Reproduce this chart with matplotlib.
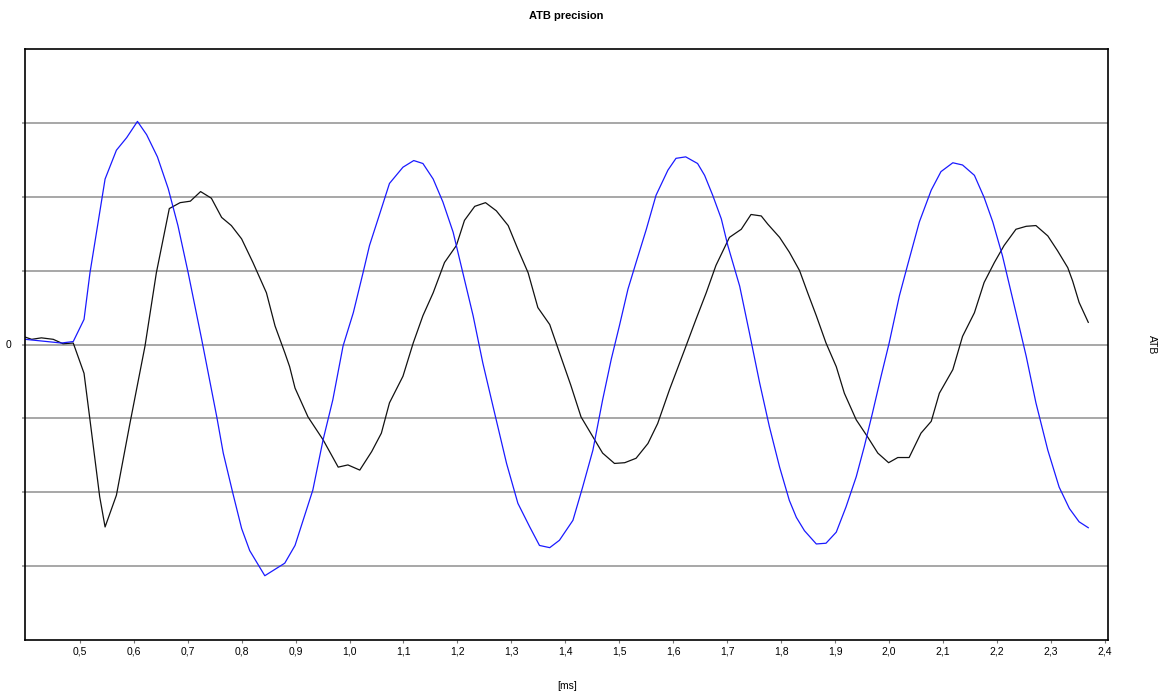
import matplotlib
matplotlib.use("Agg")
import matplotlib.pyplot as plt

plt.rcParams['font.family'] = ['Liberation Sans', 'DejaVu Sans']

# ---- data (time in ms, value in grid units) ----
blue_t = [0.399, 0.466, 0.488, 0.508, 0.519, 0.547, 0.568, 0.587, 0.607, 0.624,
          0.644, 0.664, 0.682, 0.701, 0.726, 0.754, 0.766, 0.784, 0.800, 0.815,
          0.843, 0.880, 0.899, 0.932, 0.951, 0.969, 0.988, 1.007, 1.025, 1.037,
          1.056, 1.074, 1.099, 1.119, 1.136, 1.155, 1.173, 1.192, 1.210, 1.229,
          1.247, 1.266, 1.291, 1.312, 1.334, 1.352, 1.371, 1.389, 1.414, 1.432,
          1.451, 1.469, 1.485, 1.500, 1.516, 1.531, 1.550, 1.568, 1.590, 1.605,
          1.623, 1.645, 1.658, 1.673, 1.689, 1.701, 1.723, 1.741, 1.760, 1.778,
          1.797, 1.815, 1.828, 1.843, 1.865, 1.883, 1.902, 1.920, 1.939, 1.954,
          1.969, 1.985, 2.000, 2.019, 2.034, 2.056, 2.078, 2.096, 2.118, 2.136,
          2.158, 2.176, 2.192, 2.210, 2.235, 2.254, 2.272, 2.294, 2.315, 2.334,
          2.352, 2.369]
blue_v = [0.07, 0.02, 0.04, 0.34, 0.97, 2.24, 2.63, 2.80, 3.02, 2.84,
          2.54, 2.11, 1.61, 0.97, 0.07, -0.98, -1.47, -2.02, -2.49, -2.79,
          -3.13, -2.96, -2.72, -1.97, -1.29, -0.75, -0.02, 0.43, 0.97, 1.34,
          1.77, 2.18, 2.40, 2.49, 2.45, 2.24, 1.93, 1.52, 0.97, 0.39,
          -0.25, -0.84, -1.61, -2.15, -2.47, -2.72, -2.75, -2.65, -2.38, -1.93,
          -1.43, -0.75, -0.20, 0.25, 0.75, 1.11, 1.56, 2.02, 2.36, 2.52,
          2.54, 2.45, 2.29, 2.02, 1.70, 1.34, 0.79, 0.16, -0.52, -1.11,
          -1.66, -2.11, -2.34, -2.52, -2.70, -2.69, -2.54, -2.20, -1.79, -1.38,
          -0.93, -0.43, 0.02, 0.66, 1.07, 1.66, 2.09, 2.34, 2.46, 2.43,
          2.29, 1.99, 1.66, 1.20, 0.43, -0.16, -0.79, -1.43, -1.93, -2.22,
          -2.40, -2.48]

black_t = [0.399, 0.411, 0.429, 0.451, 0.469, 0.488, 0.508, 0.519, 0.537, 0.547,
           0.568, 0.593, 0.621, 0.642, 0.666, 0.686, 0.705, 0.724, 0.744, 0.763,
           0.781, 0.800, 0.821, 0.846, 0.862, 0.880, 0.889, 0.899, 0.923, 0.951,
           0.979, 0.997, 1.019, 1.041, 1.059, 1.074, 1.099, 1.118, 1.136, 1.155,
           1.176, 1.198, 1.213, 1.232, 1.252, 1.272, 1.294, 1.312, 1.331, 1.349,
           1.371, 1.389, 1.410, 1.429, 1.451, 1.469, 1.491, 1.510, 1.531, 1.553,
           1.571, 1.593, 1.621, 1.642, 1.661, 1.679, 1.704, 1.726, 1.744, 1.763,
           1.775, 1.797, 1.815, 1.834, 1.849, 1.865, 1.883, 1.902, 1.917, 1.939,
           1.960, 1.979, 1.999, 2.016, 2.037, 2.059, 2.078, 2.093, 2.118, 2.136,
           2.158, 2.176, 2.195, 2.213, 2.235, 2.254, 2.272, 2.294, 2.312, 2.331,
           2.340, 2.352, 2.369]
black_v = [0.10, 0.07, 0.09, 0.07, 0.01, 0.02, -0.39, -1.02, -2.06, -2.47,
           -2.04, -1.07, -0.02, 0.97, 1.84, 1.92, 1.94, 2.07, 1.98, 1.72,
           1.61, 1.43, 1.11, 0.70, 0.25, -0.11, -0.30, -0.59, -0.98, -1.29,
           -1.66, -1.63, -1.70, -1.45, -1.20, -0.79, -0.43, 0.02, 0.39, 0.70,
           1.11, 1.34, 1.68, 1.87, 1.92, 1.81, 1.61, 1.29, 0.97, 0.50,
           0.27, -0.11, -0.55, -0.98, -1.25, -1.47, -1.61, -1.60, -1.54, -1.34,
           -1.07, -0.61, -0.07, 0.34, 0.70, 1.07, 1.45, 1.56, 1.76, 1.74,
           1.63, 1.45, 1.25, 1.00, 0.70, 0.39, 0.02, -0.30, -0.66, -1.02,
           -1.25, -1.47, -1.60, -1.53, -1.53, -1.20, -1.04, -0.66, -0.34, 0.11,
           0.43, 0.84, 1.11, 1.34, 1.56, 1.60, 1.61, 1.47, 1.27, 1.04,
           0.86, 0.57, 0.30]

x_ticks = [0.5, 0.6, 0.7, 0.8, 0.9, 1.0, 1.1, 1.2, 1.3, 1.4,
           1.5, 1.6, 1.7, 1.8, 1.9, 2.0, 2.1, 2.2, 2.3, 2.4]
x_tick_labels = ["0,5", "0,6", "0,7", "0,8", "0,9", "1,0", "1,1", "1,2", "1,3", "1,4",
                 "1,5", "1,6", "1,7", "1,8", "1,9", "2,0", "2,1", "2,2", "2,3", "2,4"]
y_ticks = [-3, -2, -1, 0, 1, 2, 3]
y_tick_labels = ["", "", "", "0", "", "", ""]

W, H = 1161, 693
fig = plt.figure(figsize=(W / 100, H / 100), dpi=100)
fig.patch.set_facecolor('white')
ax = fig.add_axes([25 / W, 1 - 640 / H, (1107.7 - 25) / W, (640 - 49) / H])

ax.set_xlim(0.3986, 2.405)
ax.set_ylim(-4, 4)

ax.set_yticks(y_ticks)
ax.set_yticklabels(y_tick_labels)
ax.set_xticks(x_ticks)
ax.set_xticklabels(x_tick_labels)
ax.grid(axis='y', color='#8f8f8f', linewidth=1.1)
ax.set_axisbelow(True)

ax.tick_params(axis='x', direction='out', length=2, width=0.8, color='#777777',
               labelsize=7.5, pad=3)
ax.tick_params(axis='y', direction='out', length=2, width=1.1, color='#8f8f8f',
               labelsize=7.5, pad=8)

for sp in ax.spines.values():
    sp.set_color('black')
    sp.set_linewidth(1.2)

ax.plot(black_t, black_v, color='#111111', linewidth=0.9)
ax.plot(blue_t, blue_v, color='#1a1aff', linewidth=0.9)

fig.text(566 / W, 1 - 16 / H, "ATB precision", ha='center', va='center',
         fontsize=8, fontweight='bold')
fig.text(567 / W, 1 - 686 / H, "[ms]", ha='center', va='center', fontsize=7.5)
fig.text(1152 / W, 1 - 345 / H, "ATB", ha='center', va='center', fontsize=7.5,
         rotation=-90)

fig.savefig("out.png", dpi=100, facecolor='white')
